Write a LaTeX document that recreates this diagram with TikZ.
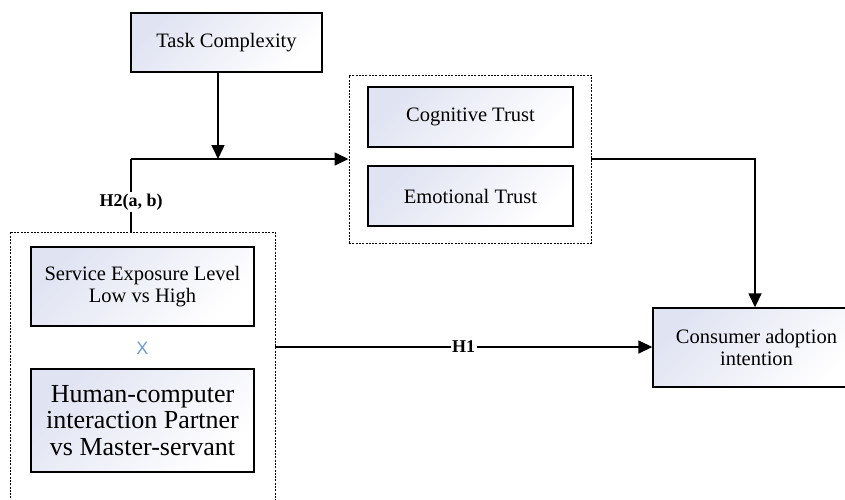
\documentclass[tikz,border=0pt]{standalone}
\usepackage{fontspec}
\setmainfont{Liberation Serif}
\newfontfamily\xsans{Liberation Sans}
\usetikzlibrary{arrows.meta}
\definecolor{boxfill}{RGB}{224,227,242}
\definecolor{xblue}{RGB}{110,155,210}
\tikzset{
  box/.style={draw=black, line width=1.4pt, top color=boxfill, bottom color=white, shading angle=45,
    align=center, inner sep=0pt, font=\fontsize{20.5}{22}\selectfont},
  dashbox/.style={draw=black, line width=0.9pt, dash pattern=on 2pt off 1.3pt},
  conn/.style={draw=black, line width=1.5pt},
  arr/.style={conn, -{Triangle[length=14pt,width=13pt]}},
  hlabel/.style={fill=white, inner sep=1.5pt, font=\fontsize{18}{20}\selectfont\bfseries},
}
\begin{document}
\begin{tikzpicture}[x=1pt,y=-1pt]
\useasboundingbox (0,0) rectangle (845,499);
% task complexity
\node[box, minimum width=191, minimum height=59] (task) at (226.5,42.5) {Task Complexity};
% trust group
\node[dashbox, minimum width=242, minimum height=168] (trust) at (470,159) {};
\node[box, minimum width=205, minimum height=60] (cog) at (470.5,117) {Cognitive Trust};
\node[box, minimum width=205, minimum height=60] (emo) at (470.5,196) {Emotional Trust};
% left group (open at bottom, cut by the page)
\coordinate (gBL) at (10,505);
\coordinate (gTL) at (10,232);
\coordinate (gTR) at (275,232);
\coordinate (gBR) at (275,505);
\draw[dashbox] (gBL) -- (gTL) -- (gTR) -- (gBR);
\node[box, minimum width=223, minimum height=79] (serv) at (142.5,286.5) {Service Exposure Level\\Low vs High};
\node[text=xblue, font=\fontsize{18}{18}\xsans, inner sep=0pt] (x) at (142.5,348) {X};
\node[box, minimum width=223, minimum height=103, font=\fontsize{26}{26.5}\selectfont] (hci) at (142.5,420.5) {Human-computer\\interaction Partner\\vs Master-servant};
% consumer
\node[box, minimum width=207, minimum height=79] (cons) at (756.5,347.5) {Consumer adoption\\intention};
% connectors
\coordinate (h2c) at (131,159);
\coordinate (mod) at (218,159);
\coordinate (gH1) at (275,347);
\coordinate (tc) at (755,159);
\draw[conn] (gTL -| h2c) -- node[hlabel, pos=0.41] (h2) {H2(a, b)} (h2c);
\draw[arr] (h2c) -- (trust.west |- h2c);
\draw[arr] (task.south -| mod) -- (mod);
\draw[arr] (gH1) -- node[hlabel, pos=0.5] (h1) {H1} (cons.west |- gH1);
\draw[arr] (trust.east |- tc) -- (tc) -- (cons.north -| tc);
\end{tikzpicture}
\end{document}
